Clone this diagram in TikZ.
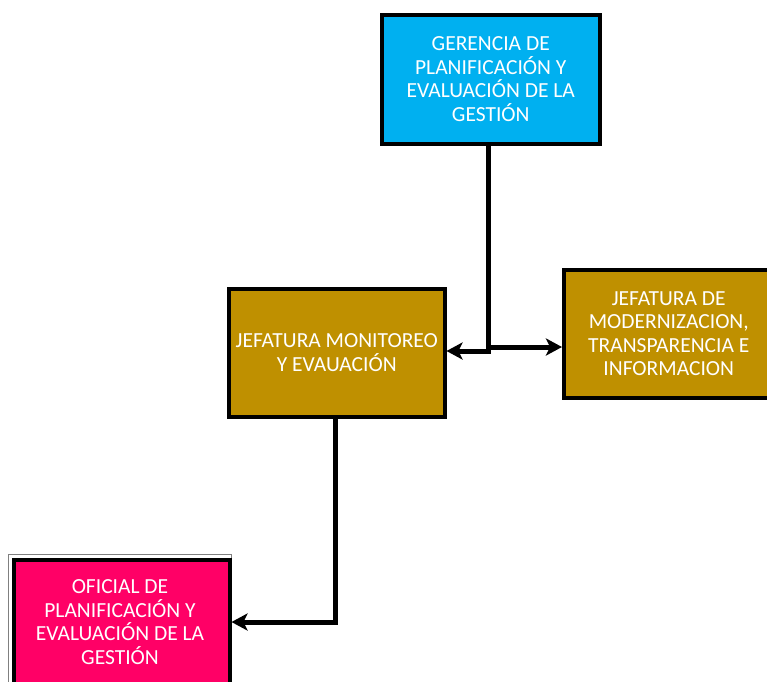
\documentclass[tikz,border=0pt]{standalone}
\usepackage{fontspec}
\setmainfont{Carlito}
\usetikzlibrary{arrows.meta}
\definecolor{gerblue}{HTML}{00B0F0}
\definecolor{jefgold}{HTML}{BF9000}
\definecolor{ofpink}{HTML}{FF0066}
\tikzset{
  boxtext/.style={text=white, align=center,
    font=\fontsize{21.5}{23.5}\selectfont},
  unit/.style={boxtext, draw=black, line width=3.5pt, inner sep=0pt, anchor=north west},
  link/.style={line width=5pt, line cap=rect,
    -{Stealth[length=16pt,width=17pt,inset=4pt]}},
  plain/.style={line width=5pt, line cap=rect}
}
\begin{document}
\begin{tikzpicture}[x=1pt,y=-1pt]
\useasboundingbox (0,0) rectangle (767,681);
% boxes
\node[unit, fill=gerblue, minimum width=218, minimum height=129] (ger) at (380,13)
  {GERENCIA DE\\PLANIFICACIÓN Y\\EVALUACIÓN DE LA\\GESTIÓN};
\node[unit, fill=jefgold, minimum width=216, minimum height=128] (jmon) at (227,287)
  {JEFATURA MONITOREO\\Y EVAUACIÓN};
\node[unit, fill=jefgold, minimum width=210, minimum height=128] (jmod) at (562,268)
  {JEFATURA DE\\MODERNIZACION,\\TRANSPARENCIA E\\INFORMACION};
\draw[gray, line width=1pt] (8.5,554.5) rectangle (231.5,700);
\node[unit, fill=ofpink, minimum width=216, minimum height=140] (ofi) at (12,558) {};
\node[boxtext] (ofitxt) at (120,622)
  {OFICIAL DE\\PLANIFICACIÓN Y\\EVALUACIÓN DE LA\\GESTIÓN};
% connectors
\coordinate (split) at (488,351);
\draw[plain] (ger.south -| split) -- (split);
\draw[link] (split) -- (split -| jmon.east);
\draw[link] (488,347) -- (jmod.west |- 0,347);
\coordinate (bend) at (335,622);
\draw[plain] (jmon.south -| bend) -- (bend);
\draw[link] (bend) -- (ofi.east |- bend);
\end{tikzpicture}
\end{document}
